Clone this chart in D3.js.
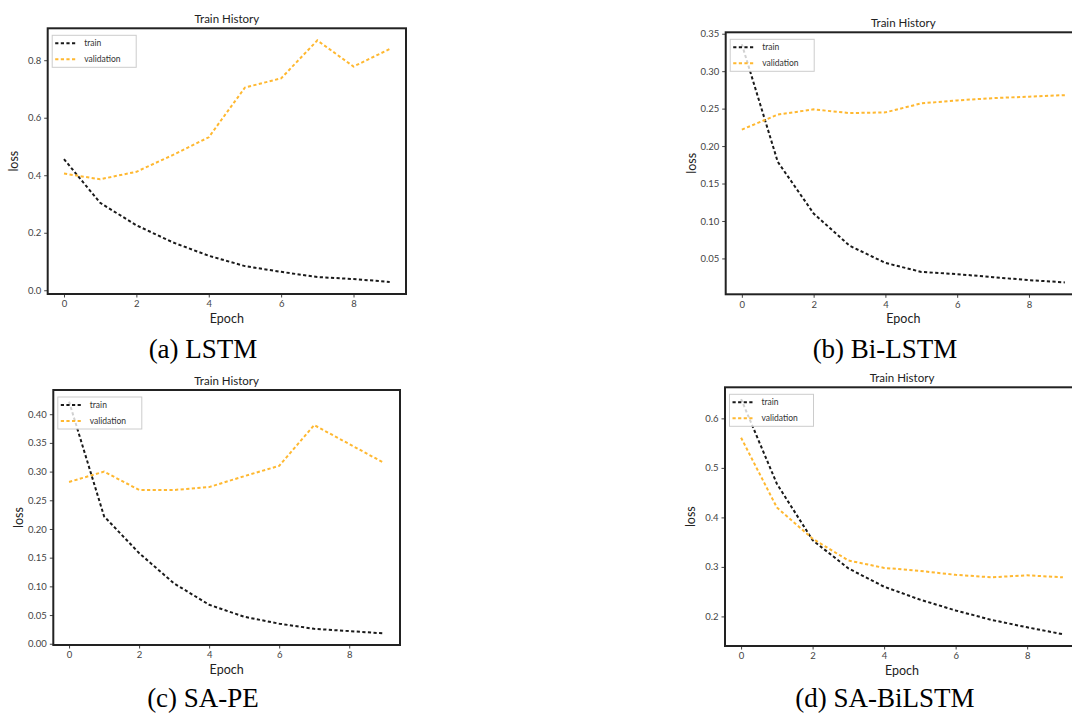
<!DOCTYPE html>
<html>
<head>
<meta charset="utf-8">
<script src="https://cdn.jsdelivr.net/npm/d3@7"></script>
<style>
  html, body { margin: 0; padding: 0; background: #fff; }
  svg { display: block; }
  .tick text { font-family: Lato, "Open Sans", sans-serif; }
</style>
</head>
<body>
<svg id="chart" width="1072" height="714"></svg>
<script>
// Loss history per model, one value per epoch
const epochs = [0, 1, 2, 3, 4, 5, 6, 7, 8, 9];

const lstmTrain = [0.456, 0.304, 0.226, 0.167, 0.120, 0.084, 0.064, 0.046, 0.039, 0.029];
const lstmVal   = [0.406, 0.386, 0.412, 0.470, 0.532, 0.705, 0.737, 0.869, 0.778, 0.839];

const biTrain = [0.336, 0.179, 0.110, 0.067, 0.044, 0.032, 0.029, 0.025, 0.021, 0.018];
const biVal   = [0.222, 0.242, 0.249, 0.244, 0.245, 0.257, 0.261, 0.264, 0.266, 0.268];

const sapeTrain = [0.422, 0.222, 0.158, 0.105, 0.068, 0.047, 0.035, 0.026, 0.022, 0.018];
const sapeVal   = [0.282, 0.300, 0.268, 0.268, 0.273, 0.292, 0.310, 0.381, 0.348, 0.315];

const sabiTrain = [0.639, 0.468, 0.354, 0.297, 0.260, 0.234, 0.212, 0.193, 0.178, 0.164];
const sabiVal   = [0.561, 0.420, 0.357, 0.313, 0.298, 0.292, 0.284, 0.279, 0.283, 0.279];

const xTicks = [0, 2, 4, 6, 8];
const lstmTicks = [0.0, 0.2, 0.4, 0.6, 0.8];
const biTicks = [0.05, 0.10, 0.15, 0.20, 0.25, 0.30, 0.35];
const sapeTicks = [0.00, 0.05, 0.10, 0.15, 0.20, 0.25, 0.30, 0.35, 0.40];
const sabiTicks = [0.2, 0.3, 0.4, 0.5, 0.6];

const captions = ["(a) LSTM", "(b) Bi-LSTM", "(c) SA-PE", "(d) SA-BiLSTM"];
const seriesNames = ["train", "validation"];
const seriesColors = ["#1a1a1a", "#ffb830"];

const panels = [
  { train: lstmTrain, val: lstmVal, ticks: lstmTicks, fmt: ".1f", caption: captions[0],
    box: { x0: 47.7, y0: 28.3, x1: 406, y1: 294 }, capX: 203, capY: 358 },
  { train: biTrain, val: biVal, ticks: biTicks, fmt: ".2f", caption: captions[1],
    box: { x0: 725.7, y0: 32.3, x1: 1081, y1: 294.3 }, capX: 885, capY: 358 },
  { train: sapeTrain, val: sapeVal, ticks: sapeTicks, fmt: ".2f", caption: captions[2],
    box: { x0: 53.3, y0: 390, x1: 400, y1: 645 }, capX: 203, capY: 707 },
  { train: sabiTrain, val: sabiVal, ticks: sabiTicks, fmt: ".1f", caption: captions[3],
    box: { x0: 725, y0: 387.3, x1: 1079, y1: 646 }, capX: 885, capY: 707 }
];

const svg = d3.select("#chart");
const sans = "Lato, 'Open Sans', sans-serif";

panels.forEach(p => {
  const b = p.box;
  const all = p.train.concat(p.val);
  const [lo, hi] = d3.extent(all);
  const pad = (hi - lo) * 0.05;

  const x = d3.scaleLinear().domain([-0.45, 9.45]).range([b.x0, b.x1]);
  const y = d3.scaleLinear().domain([lo - pad, hi + pad]).range([b.y1, b.y0]);

  const g = svg.append("g");

  // axes
  const xAxis = d3.axisBottom(x).tickValues(xTicks).tickSize(3.5).tickPadding(3).tickFormat(d3.format("d"));
  const yAxis = d3.axisLeft(y).tickValues(p.ticks).tickSize(3.5).tickPadding(3).tickFormat(d3.format(p.fmt));

  const gx = g.append("g").attr("transform", `translate(0,${b.y1})`).call(xAxis);
  const gy = g.append("g").attr("transform", `translate(${b.x0},0)`).call(yAxis);
  [gx, gy].forEach(a => {
    a.select(".domain").remove();
    a.selectAll(".tick line").attr("stroke", "#444").attr("stroke-width", 1);
    a.selectAll(".tick text").attr("fill", "#444").style("font-size", "9.5px");
  });

  // clip so lines stay inside the frame
  const clipId = "clip" + Math.round(b.x0) + "_" + Math.round(b.y0);
  svg.append("clipPath").attr("id", clipId)
    .append("rect").attr("x", b.x0).attr("y", b.y0)
    .attr("width", b.x1 - b.x0).attr("height", b.y1 - b.y0);

  const line = d3.line().x((d, i) => x(epochs[i])).y(d => y(d));

  const lines = g.append("g").attr("clip-path", `url(#${clipId})`);
  [p.train, p.val].forEach((s, k) => {
    lines.append("path")
      .datum(s)
      .attr("d", line)
      .attr("fill", "none")
      .attr("stroke", seriesColors[k])
      .attr("stroke-width", 2)
      .attr("stroke-dasharray", "3.2,2.4");
  });

  // legend
  const lg = g.append("g").attr("transform", `translate(${b.x0 + 4.5},${b.y0 + 7})`);
  lg.append("rect").attr("x", 0).attr("y", 0).attr("width", 84).attr("height", 32)
    .attr("fill", "rgba(255,255,255,0.8)").attr("stroke", "#cccccc").attr("stroke-width", 1);
  seriesNames.forEach((n, k) => {
    const yy = 8 + k * 16;
    lg.append("line").attr("x1", 3).attr("x2", 25).attr("y1", yy).attr("y2", yy)
      .attr("stroke", seriesColors[k]).attr("stroke-width", 2).attr("stroke-dasharray", "3.2,2.4");
    lg.append("text").attr("x", 32).attr("y", yy).attr("dy", "0.35em")
      .attr("font-family", sans).attr("font-size", 8.5).attr("fill", "#333").text(n);
  });

  // frame
  g.append("rect").attr("x", b.x0).attr("y", b.y0)
    .attr("width", b.x1 - b.x0).attr("height", b.y1 - b.y0)
    .attr("fill", "none").attr("stroke", "#222").attr("stroke-width", 2);

  const cx = x(4.5);
  // title
  g.append("text").attr("x", cx).attr("y", b.y0 - 5)
    .attr("text-anchor", "middle").attr("font-family", sans).attr("font-size", 11.5).attr("fill", "#222")
    .text("Train History");
  // axis labels
  g.append("text").attr("x", cx).attr("y", b.y1 + 29)
    .attr("text-anchor", "middle").attr("font-family", sans).attr("font-size", 12.5).attr("fill", "#222")
    .text("Epoch");
  g.append("text")
    .attr("transform", `translate(${b.x0 - 30},${(b.y0 + b.y1) / 2}) rotate(-90)`)
    .attr("text-anchor", "middle").attr("font-family", sans).attr("font-size", 12.5).attr("fill", "#222")
    .text("loss");

  // caption
  svg.append("text").attr("x", p.capX).attr("y", p.capY)
    .attr("text-anchor", "middle").attr("font-family", "'Liberation Serif', 'Times New Roman', serif")
    .attr("font-size", 27).attr("fill", "#000").text(p.caption);
});
</script>
</body>
</html>
